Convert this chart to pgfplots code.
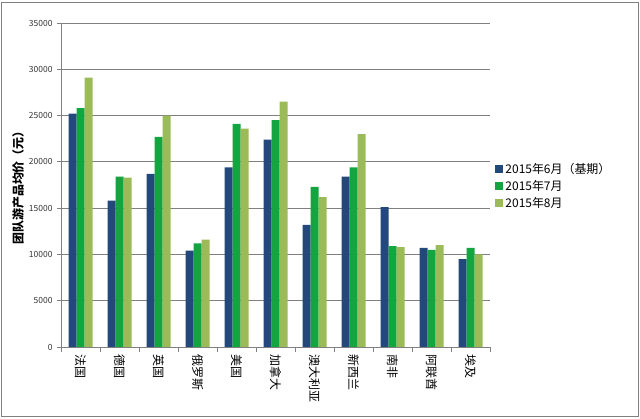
\documentclass[border=0pt]{standalone}
\usepackage{pgfplots}
\pgfplotsset{compat=1.18}
\usepackage{fontspec}
\setmainfont{Noto Sans CJK SC}
\definecolor{cblue}{RGB}{34,72,124}
\definecolor{cgreen}{RGB}{18,165,64}
\definecolor{colive}{RGB}{155,187,89}
\definecolor{axgray}{RGB}{128,128,128}
\begin{document}
\begin{tikzpicture}
\useasboundingbox (0,0) rectangle (640bp,419bp);
\draw[axgray,line width=0.8bp] (1.5bp,2.5bp) rectangle (638bp,417bp);
\begin{axis}[
  at={(61bp,72bp)}, anchor=south west,
  scale only axis, width=429bp, height=324bp,
  ybar=0pt, bar width=8bp,
  xmin=-0.5, xmax=10.5, ymin=0, ymax=35000,
  axis x line*=bottom, axis y line*=left,
  axis line style={axgray, line width=0.8bp},
  xtick={0,...,10},
  xticklabels={法国,德国,英国,俄罗斯,美国,加拿大,澳大利亚,新西兰,南非,阿联酋,埃及},
  major x tick style={draw=none},
  minor xtick={-0.5,0.5,...,10.5},
  minor x tick style={axgray, line width=0.8bp},
  tick align=outside,
  minor tick length=5bp,
  major tick length=4bp,
  ytick={0,5000,...,35000},
  y tick style={axgray, line width=0.8bp},
  ymajorgrids, major grid style={axgray, line width=0.8bp},
  scaled y ticks=false,
  /pgf/number format/1000 sep={},
  /pgf/number format/assume math mode=true,
  yticklabel style={font=\fontsize{8.5}{10}\selectfont, text=black!80, xshift=-1bp},
  xticklabel style={font=\fontsize{12}{13}\selectfont, rotate=-90, anchor=west, xshift=0bp, yshift=0bp},
  ylabel={\bfseries 团队游产品均价（元）},
  ylabel style={font=\fontsize{12}{13}\selectfont\bfseries, at={(-43bp,0.5)}, anchor=center, rotate=0},
  legend style={draw=none, at={(1.01,0.497)}, anchor=west, font=\fontsize{12}{13}\selectfont, row sep=1.5bp, inner sep=1bp, legend cell align=left},
  legend image code/.code={\fill[#1] (0bp,-4bp) rectangle (8bp,4bp);},
]
\addplot[fill=cblue, draw=none] coordinates {(0,25200) (1,15800) (2,18700) (3,10400) (4,19400) (5,22400) (6,13200) (7,18400) (8,15100) (9,10700) (10,9500)};
\addplot[fill=cgreen, draw=none] coordinates {(0,25800) (1,18400) (2,22700) (3,11200) (4,24100) (5,24500) (6,17300) (7,19400) (8,10900) (9,10500) (10,10700)};
\addplot[fill=colive, draw=none] coordinates {(0,29100) (1,18300) (2,25000) (3,11600) (4,23600) (5,26500) (6,16200) (7,23000) (8,10800) (9,11000) (10,10000)};
\legend{2015年6月（基期）,2015年7月,2015年8月}
\end{axis}
\end{tikzpicture}
\end{document}
